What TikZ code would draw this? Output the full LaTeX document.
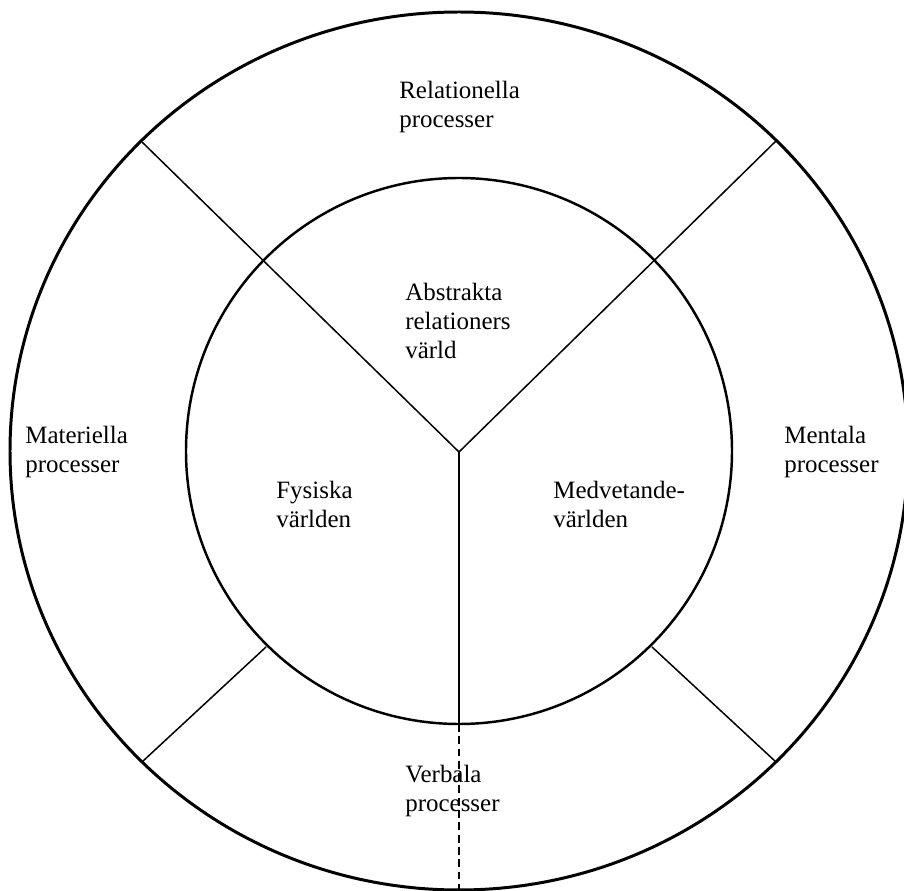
\documentclass[tikz,border=0pt]{standalone}
\usepackage{fontspec}
\setmainfont{Liberation Serif}
\usepackage{tikz}

\tikzset{
  ring/.style={line width=1.7pt},
  core/.style={line width=1.4pt},
  spoke/.style={line width=0.85pt},
  lbl/.style={anchor=north west, inner sep=0pt, align=left,
    font=\fontsize{14.2}{16.6}\selectfont},
}

\begin{document}
\begin{tikzpicture}[x=0.02cm,y=-0.02cm]
  \useasboundingbox (0,0) rectangle (904,891);

  % circles
  \coordinate (mid) at (459,451);
  \draw[ring] (mid) circle [x radius=449, y radius=439];
  \draw[core] (mid) circle [radius=273];

  % the Y and the lower spokes
  \coordinate (hub) at (459,452);
  \coordinate (ulOut) at (142,142);
  \coordinate (urOut) at (776,141);
  \coordinate (llIn) at (266,647);
  \coordinate (llOut) at (142,762);
  \coordinate (lrIn) at (652,647);
  \coordinate (lrOut) at (776,762);
  \coordinate (botIn) at (459,724);
  \coordinate (botOut) at (459,890);

  \draw[spoke] (hub) -- (ulOut);
  \draw[spoke] (hub) -- (urOut);
  \draw[spoke] (hub) -- (botIn);
  \draw[spoke,dash pattern=on 4.5pt off 2.5pt] (botIn) -- (botOut);
  \draw[spoke] (llIn) -- (llOut);
  \draw[spoke] (lrIn) -- (lrOut);

  % labels (top left corner of each text block)
  \node[lbl] (relproc) at (399,81) {Relationella\\processer};
  \node[lbl] (abstr) at (405,283) {Abstrakta\\relationers\\värld};
  \node[lbl] (matproc) at (25,426) {Materiella\\processer};
  \node[lbl] (mentproc) at (784,426) {Mentala\\processer};
  \node[lbl] (fys) at (276,481) {Fysiska\\världen};
  \node[lbl] (medv) at (553,481) {Medvetande-\\världen};
  \node[lbl] (verbproc) at (405,765) {Verbala\\processer};
\end{tikzpicture}
\end{document}
